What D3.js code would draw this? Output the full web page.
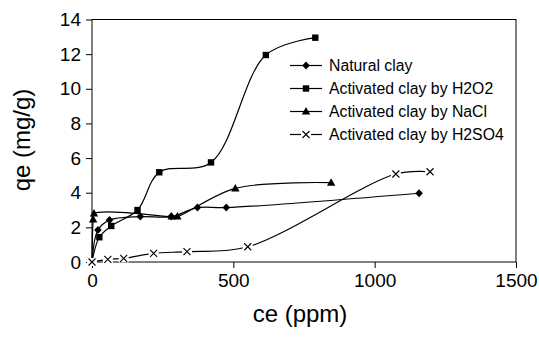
<!DOCTYPE html>
<html>
<head>
<meta charset="utf-8">
<script src="https://d3js.org/d3.v7.min.js"></script>
<style>
    body { margin: 0; background: #fff; }
    svg { font-family: "Liberation Sans", Arial, sans-serif; }
</style>
</head>
<body>
<script>
    // data
    const series_names = ["Natural clay", "Activated clay by H2O2",
        "Activated clay by NaCl", "Activated clay by H2SO4"];
    const natural_x = [0, 21, 62, 171, 280, 373, 475, 1157];
    const natural_y = [0, 1.85, 2.42, 2.62, 2.62, 3.14, 3.14, 3.97];
    const h2o2_x = [0, 26, 68, 161, 238, 421, 615, 790];
    const h2o2_y = [0, 1.43, 2.08, 3.0, 5.18, 5.75, 11.95, 12.95];
    const nacl_x = [0, 4, 7, 282, 302, 507, 846];
    const nacl_y = [0, 2.45, 2.8, 2.62, 2.62, 4.25, 4.58];
    const h2so4_x = [0, 56, 112, 218, 336, 551, 1075, 1196];
    const h2so4_y = [0, 0.15, 0.21, 0.5, 0.6, 0.88, 5.08, 5.21];
    const x_ticks = [0, 500, 1000, 1500];
    const y_ticks = [0, 2, 4, 6, 8, 10, 12, 14];

    const svg_w = 539, svg_h = 337;
    const left_marg = 92, right_edge = 516, top_marg = 19.5, bottom_edge = 262;

    const svg = d3.select("body").append("svg")
        .attr("width", svg_w)
        .attr("height", svg_h);

    const x_scale = d3.scaleLinear().domain([0, 1500]).range([left_marg, right_edge]);
    const y_scale = d3.scaleLinear().domain([0, 14]).range([bottom_edge, top_marg]);

    // plot box
    svg.append("rect")
        .attr("x", left_marg).attr("y", top_marg)
        .attr("width", right_edge - left_marg).attr("height", bottom_edge - top_marg)
        .attr("fill", "none").attr("stroke", "#000").attr("stroke-width", 1);

    // axes
    const x_axis = d3.axisBottom(x_scale).tickValues(x_ticks)
        .tickSize(6).tickPadding(6).tickFormat(d3.format("d"));
    const y_axis = d3.axisLeft(y_scale).tickValues(y_ticks)
        .tickSize(6).tickPadding(5).tickFormat(d3.format("d"));

    const gx = svg.append("g")
        .attr("transform", "translate(0," + bottom_edge + ")")
        .call(x_axis);
    const gy = svg.append("g")
        .attr("transform", "translate(" + left_marg + ",0)")
        .call(y_axis);
    for (const g of [gx, gy]) {
        g.select(".domain").remove();
        g.selectAll("line").attr("stroke", "#000");
        g.selectAll("text").attr("fill", "#000")
            .style("font-size", "19px")
            .style("font-family", "'Liberation Sans', Arial, sans-serif");
    }

    // axis titles
    svg.append("text")
        .text("qe (mg/g)")
        .attr("text-anchor", "middle")
        .attr("transform", "translate(30,140)rotate(-90)")
        .style("font-size", "24px");
    svg.append("text")
        .text("ce (ppm)")
        .attr("text-anchor", "middle")
        .attr("x", 300).attr("y", 322)
        .style("font-size", "24px");

    // markers
    function draw_marker(g, kind, cx, cy) {
        if (kind == "diamond") {
            g.append("path")
                .attr("d", "M" + cx + "," + (cy - 4) + "L" + (cx + 3.8) + "," + cy +
                    "L" + cx + "," + (cy + 4) + "L" + (cx - 3.8) + "," + cy + "Z")
                .attr("fill", "#000");
        } else if (kind == "square") {
            g.append("rect")
                .attr("x", cx - 3.2).attr("y", cy - 3.2)
                .attr("width", 6.4).attr("height", 6.4)
                .attr("fill", "#000");
        } else if (kind == "triangle") {
            g.append("path")
                .attr("d", "M" + cx + "," + (cy - 4.5) + "L" + (cx + 4.2) + "," + (cy + 3) +
                    "L" + (cx - 4.2) + "," + (cy + 3) + "Z")
                .attr("fill", "#000");
        } else {
            // the cross sits on a small white patch that breaks the line
            g.append("rect")
                .attr("x", cx - 5).attr("y", cy - 4)
                .attr("width", 10).attr("height", 8)
                .attr("fill", "#fff");
            g.append("path")
                .attr("d", "M" + (cx - 3.5) + "," + (cy - 3.5) + "L" + (cx + 3.5) + "," + (cy + 3.5) +
                    "M" + (cx + 3.5) + "," + (cy - 3.5) + "L" + (cx - 3.5) + "," + (cy + 3.5))
                .attr("stroke", "#000").attr("stroke-width", 1.1).attr("fill", "none");
        }
    }

    const all_series = [
        {xs: natural_x, ys: natural_y, marker: "diamond"},
        {xs: h2o2_x, ys: h2o2_y, marker: "square"},
        {xs: nacl_x, ys: nacl_y, marker: "triangle"},
        {xs: h2so4_x, ys: h2so4_y, marker: "cross"}
    ];

    const line = d3.line()
        .x(d => x_scale(d[0]))
        .y(d => y_scale(d[1]))
        .curve(d3.curveCatmullRom.alpha(0.5));

    for (const s of all_series) {
        const pts = s.xs.map((x, i) => [x, s.ys[i]]);
        const g = svg.append("g");
        g.append("path")
            .datum(pts)
            .attr("fill", "none")
            .attr("stroke", "#000")
            .attr("stroke-width", 1.2)
            .attr("d", line);
        for (const p of pts) {
            draw_marker(g, s.marker, x_scale(p[0]), y_scale(p[1]));
        }
    }

    // legend
    const legend = svg.append("g");
    series_names.forEach((name, i) => {
        const ly = 65.5 + i * 23;
        legend.append("line")
            .attr("x1", 290).attr("x2", 322)
            .attr("y1", ly).attr("y2", ly)
            .attr("stroke", "#000").attr("stroke-width", 1.2);
        draw_marker(legend, all_series[i].marker, 306, ly);
        legend.append("text")
            .text(name)
            .attr("x", 329).attr("y", ly + 5.5)
            .style("font-size", "15.8px");
    });
</script>
</body>
</html>
